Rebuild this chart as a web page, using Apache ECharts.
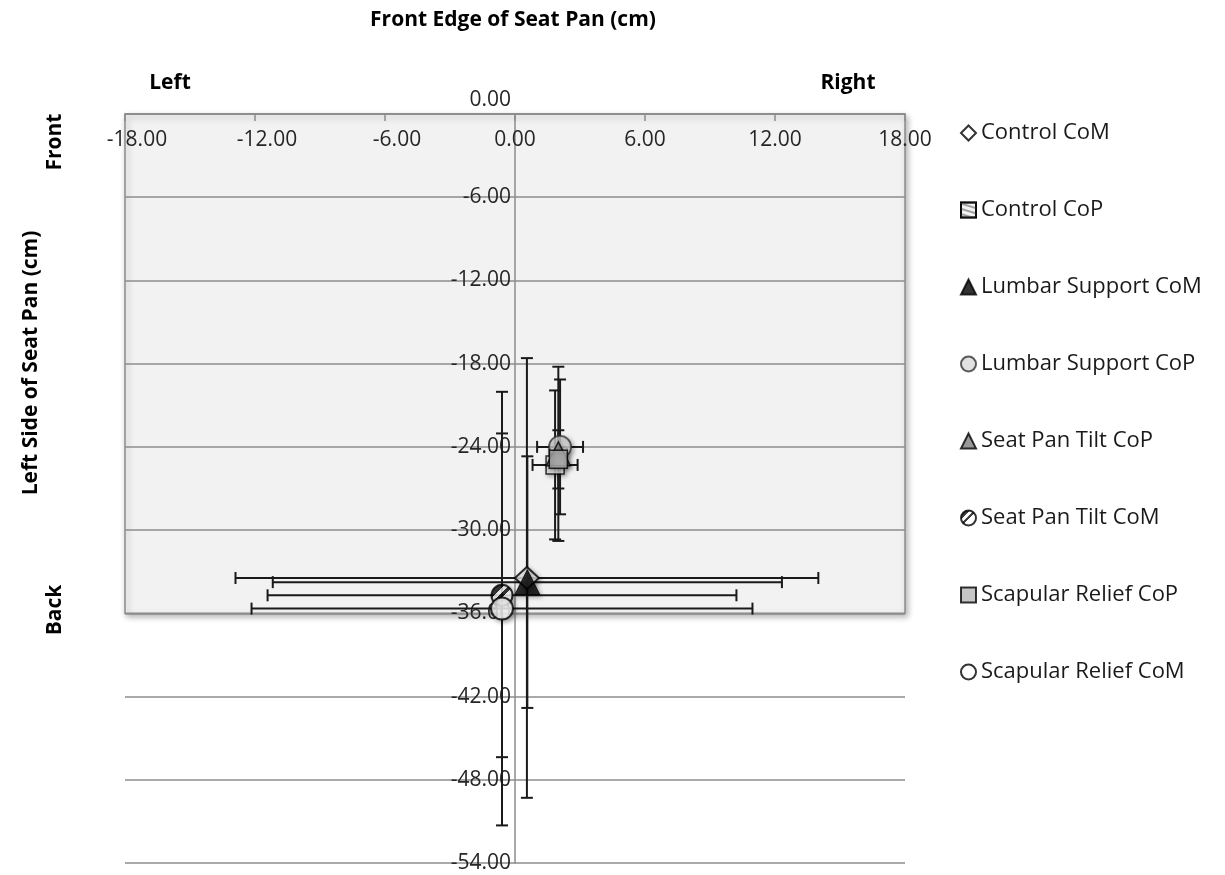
<!DOCTYPE html>
<html>
<head>
<meta charset="utf-8">
<script src="https://cdn.jsdelivr.net/npm/echarts@6/dist/echarts.min.js"></script>
<style>html,body{margin:0;padding:0;background:#fff;}#c{width:1225px;height:875px;}</style>
</head>
<body>
<div id="c"></div>
<script>
// ---- data ----
const seriesNames = ['Control CoM','Control CoP','Lumbar Support CoM','Lumbar Support CoP','Seat Pan Tilt CoP','Seat Pan Tilt CoM','Scapular Relief CoP','Scapular Relief CoM'];
const xMean = [0.55, 1.85, 0.57, 2.08, 2.0, -0.6, 2.0, -0.6];
const yMean = [-33.45, -25.3, -33.75, -24.0, -24.5, -34.7, -24.9, -35.66];
const xErr  = [13.45, 1.04, 11.75, 1.06, 0.4, 10.82, 0.3, 11.56];
const yErr  = [15.85, 5.37, 9.07, 4.86, 6.28, 11.67, 2.1, 15.63];
const xRange = [-18, 18, 6];
const yRange = [-54, 0, 6];
const plotAreaY = [0, -36];

const FONT = 'Open Sans';
const W = 1225, H = 875, GL = 125, GR = 320, GT = 114, GB = 12;
const stripeFill = new echarts.graphic.LinearGradient(0, 0, 1, 1, [
  {offset:0, color:'#111'}, {offset:0.32, color:'#111'},
  {offset:0.32, color:'#fff'}, {offset:0.44, color:'#fff'},
  {offset:0.44, color:'#111'}, {offset:0.54, color:'#111'},
  {offset:0.54, color:'#fff'}, {offset:1, color:'#fff'}
]);
const markerStyles = [
  {symbol:'diamond', size:[24,22], itemStyle:{color:'#ffffff', borderColor:'#000', borderWidth:2}},
  {symbol:'rect', size:18, itemStyle:{color:'#f0f0f0', borderColor:'#000', borderWidth:1.5,
     decal:{symbol:'rect', color:'#8a8a8a', dashArrayX:[[1,0]], dashArrayY:[2,3], rotation:0.3, symbolSize:1}}},
  {symbol:'triangle', size:25, itemStyle:{color:'#000', borderColor:'#000', borderWidth:1}},
  {symbol:'circle', size:22, itemStyle:{color:'#d9d9d9', borderColor:'#333', borderWidth:1.8}},
  {symbol:'triangle', size:24, itemStyle:{color:'#7f7f7f', borderColor:'#000', borderWidth:1.5}},
  {symbol:'circle', size:21, itemStyle:{color:stripeFill, borderColor:'#000', borderWidth:2}},
  {symbol:'rect', size:18, itemStyle:{color:'#b8b8b8', borderColor:'#000', borderWidth:1.5}},
  {symbol:'circle', size:22, itemStyle:{color:'#ffffff', borderColor:'#000', borderWidth:2}}
];

const errData = seriesNames.map((n,i)=>[xMean[i], yMean[i], xErr[i], yErr[i]]);

function renderErr(params, api){
  const x=api.value(0), y=api.value(1), ex=api.value(2), ey=api.value(3);
  const l=api.coord([x-ex,y]), r=api.coord([x+ex,y]);
  const t=api.coord([x,y+ey]), b=api.coord([x,y-ey]);
  const cap=6;
  const st={stroke:'#1a1a1a', lineWidth:2};
  const ln=(x1,y1,x2,y2)=>({type:'line', shape:{x1,y1,x2,y2}, style:st});
  return {type:'group', children:[
    ln(l[0],l[1],r[0],r[1]),
    ln(l[0],l[1]-cap,l[0],l[1]+cap),
    ln(r[0],r[1]-cap,r[0],r[1]+cap),
    ln(t[0],t[1],b[0],b[1]),
    ln(t[0]-cap,t[1],t[0]+cap,t[1]),
    ln(b[0]-cap,b[1],b[0]+cap,b[1])
  ]};
}

const scatterSeries = seriesNames.map((n,i)=>({
  name:n, type:'scatter', z:4, xAxisIndex:0, yAxisIndex:0,
  symbol: markerStyles[i].symbol, symbolSize: markerStyles[i].size,
  itemStyle: Object.assign({shadowBlur:4, shadowOffsetX:2, shadowOffsetY:2, shadowColor:'rgba(0,0,0,0.35)'}, markerStyles[i].itemStyle),
  data:[[xMean[i], yMean[i]]]
}));

const xFmt = v => v < 0 ? '{n|' + v.toFixed(2) + '}' : v.toFixed(2);
const yFmt = v => v === 0 ? '{z|' + v.toFixed(2) + '}' : v.toFixed(2);
const bgHeight = (plotAreaY[0]-plotAreaY[1])/(yRange[1]-yRange[0])*(H-GT-GB);
const boldFont = 'bold 21px "Open Sans"';

const chart = echarts.init(document.getElementById('c'));
chart.setOption({
  backgroundColor:'#ffffff',
  animation:false,
  textStyle:{fontFamily:FONT},
  grid:[
    {left:GL, right:GR, top:GT, bottom:GB},
    {left:GL, right:GR, top:GT, height:bgHeight, show:true, backgroundColor:'#f2f2f2', borderColor:'#8c8c8c', borderWidth:1.5,
     shadowBlur:6, shadowOffsetX:2, shadowOffsetY:3, shadowColor:'rgba(0,0,0,0.3)'}
  ],
  xAxis:[{
    type:'value', position:'top', min:xRange[0], max:xRange[1], interval:xRange[2],
    axisLine:{onZero:false, lineStyle:{color:'#8c8c8c', width:1.5}},
    axisTick:{inside:true, length:7, lineStyle:{color:'#8c8c8c', width:1.5}},
    axisLabel:{inside:true, margin:16, fontSize:21, color:'#262626', fontFamily:FONT,
      formatter:xFmt, rich:{n:{fontSize:21, color:'#262626', fontFamily:FONT, padding:[0,0,0,24]}}},
    splitLine:{show:false}
  },{gridIndex:1, type:'value', min:0, max:1, show:false}],
  yAxis:[{
    type:'value', min:yRange[0], max:yRange[1], interval:yRange[2],
    axisLine:{onZero:false, lineStyle:{color:'#8c8c8c', width:1.5}},
    axisTick:{show:false},
    axisLabel:{margin:4, fontSize:21, color:'#262626', fontFamily:FONT, formatter:yFmt,
      rich:{z:{fontSize:21, color:'#262626', fontFamily:FONT, padding:[0,0,28,0]}}},
    splitLine:{show:true, lineStyle:{color:'#8c8c8c', width:1.5}}
  },{gridIndex:1, type:'value', min:0, max:1, show:false}],
  legend:{
    orient:'vertical', left:955, top:117, itemWidth:15, itemHeight:15, itemGap:55,
    textStyle:{fontSize:22, color:'#1a1a1a', fontFamily:FONT, lineHeight:22},
    itemStyle:{shadowBlur:0, shadowOffsetX:0, shadowOffsetY:0},
    data:seriesNames
  },
  graphic:[
    {type:'text', x:513, y:20, style:{text:'Front Edge of Seat Pan (cm)', font:boldFont, fill:'#000', align:'center', verticalAlign:'middle'}},
    {type:'text', x:170, y:83, style:{text:'Left', font:boldFont, fill:'#000', align:'center', verticalAlign:'middle'}},
    {type:'text', x:848, y:83, style:{text:'Right', font:boldFont, fill:'#000', align:'center', verticalAlign:'middle'}},
    {type:'text', x:31, y:363, rotation:Math.PI/2, style:{text:'Left Side of Seat Pan (cm)', font:boldFont, fill:'#000', align:'center', verticalAlign:'middle'}},
    {type:'text', x:55, y:142, rotation:Math.PI/2, style:{text:'Front', font:boldFont, fill:'#000', align:'center', verticalAlign:'middle'}},
    {type:'text', x:55, y:610, rotation:Math.PI/2, style:{text:'Back', font:boldFont, fill:'#000', align:'center', verticalAlign:'middle'}}
  ],
  series:[
    {name:'errors', type:'custom', z:3, xAxisIndex:0, yAxisIndex:0, renderItem:renderErr, data:errData, encode:{x:0,y:1}, silent:true}
  ].concat(scatterSeries)
});
// place the vertical axis where x = 0 (as in the reference)
const px0 = chart.convertToPixel({xAxisIndex:0}, 0);
chart.setOption({yAxis:[{offset: GL - px0}]});
</script>
</body>
</html>
